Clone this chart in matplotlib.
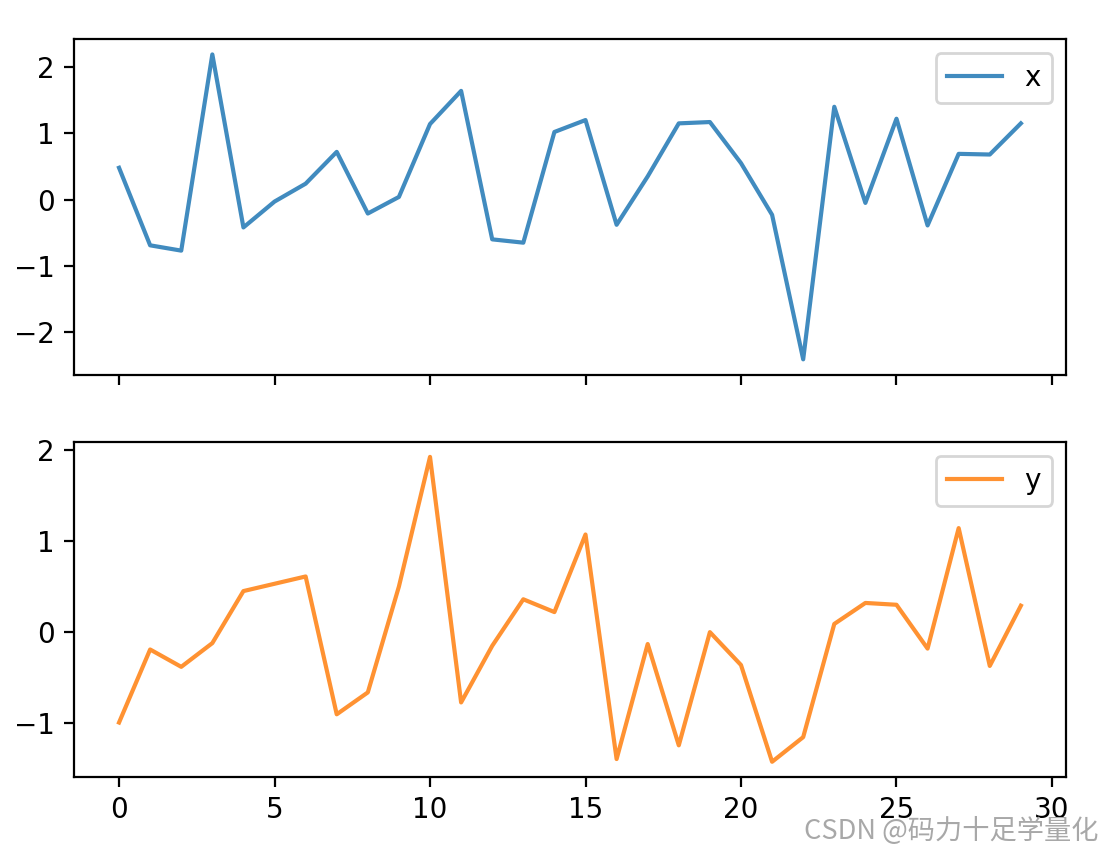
import matplotlib
matplotlib.use('Agg')
import matplotlib.pyplot as plt
import numpy as np

idx = np.arange(30)
x = [0.48, -0.69, -0.77, 2.19, -0.42, -0.03, 0.24, 0.72, -0.21, 0.04,
     1.14, 1.64, -0.60, -0.65, 1.02, 1.20, -0.38, 0.35, 1.15, 1.17,
     0.55, -0.23, -2.41, 1.40, -0.05, 1.22, -0.39, 0.69, 0.68, 1.15]
y = [-0.99, -0.19, -0.38, -0.12, 0.45, 0.53, 0.61, -0.90, -0.66, 0.50,
     1.92, -0.77, -0.15, 0.36, 0.22, 1.07, -1.39, -0.13, -1.24, 0.00,
     -0.36, -1.42, -1.15, 0.09, 0.32, 0.30, -0.18, 1.14, -0.37, 0.29]

fig, (ax1, ax2) = plt.subplots(2, 1, sharex=True, figsize=(5.56, 4.26), dpi=200)
fig.subplots_adjust(left=0.0665, right=0.9586, top=0.954, bottom=0.088, hspace=0.2)

ax1.plot(idx, x, color='tab:blue', alpha=0.85, label='x')
ax2.plot(idx, y, color='tab:orange', alpha=0.85, label='y')
ax1.legend(loc='upper right')
ax2.legend(loc='upper right')

# watermark
fig.text(0.988, 0.025, 'CSDN @码力十足学量化', ha='right', va='center',
         fontsize=9.8, color='#a8a8a8',
         family=['Noto Sans CJK SC', 'DejaVu Sans'])

fig.savefig('out.png', dpi=200)
